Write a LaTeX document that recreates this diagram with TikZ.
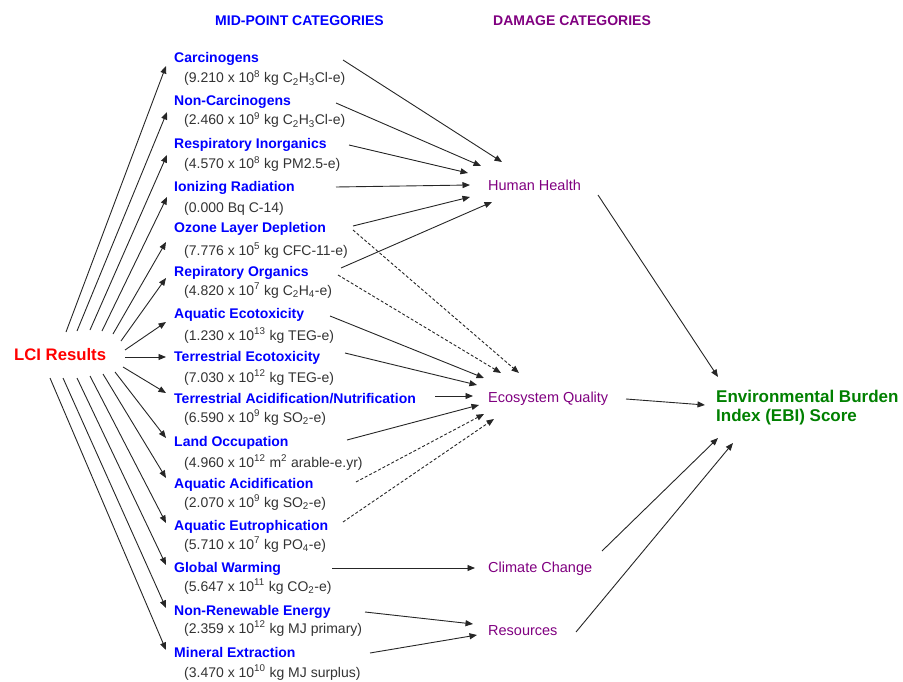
\documentclass[tikz,border=0pt]{standalone}
\usepackage{fontspec}
\setmainfont{Liberation Sans}
\usetikzlibrary{arrows.meta}
\definecolor{midblue}{RGB}{0,0,255}
\definecolor{dmgpurple}{RGB}{128,0,128}
\definecolor{ebigreen}{RGB}{0,128,0}
\definecolor{lcired}{RGB}{255,0,0}
\definecolor{valgray}{RGB}{51,51,51}
\begin{document}
\begin{tikzpicture}[x=1pt,y=-1pt,
  midname/.style={anchor=base west,inner sep=0pt,text=midblue,font=\bfseries\fontsize{14}{16}\selectfont},
  midval/.style={anchor=base west,inner sep=0pt,text=valgray,font=\fontsize{14}{16}\selectfont},
  dmg/.style={anchor=base west,inner sep=0pt,text=dmgpurple,font=\fontsize{14.5}{17}\selectfont},
  hdr/.style={anchor=base west,inner sep=0pt,font=\bfseries\fontsize{14}{16}\selectfont},
  conn/.style={draw=black!85,line width=0.9pt,-{Triangle[length=7.5pt,width=6pt]}},
  dconn/.style={conn,dash pattern=on 3pt off 2pt}
]
\useasboundingbox (0,0) rectangle (903,682);

% headers
\node[hdr,text=midblue] (hmid) at (215,26) {MID-POINT CATEGORIES};
\node[hdr,text=dmgpurple] (hdmg) at (493,26) {DAMAGE CATEGORIES};

% LCI
\node[anchor=base west,inner sep=0pt,text=lcired,font=\bfseries\fontsize{16.7}{19}\selectfont] (lci) at (14,360) {LCI Results};

% mid-point names
\node[midname] (n1) at (174,63) {Carcinogens};
\node[midname] (n2) at (174,106) {Non-Carcinogens};
\node[midname] (n3) at (174,149) {Respiratory Inorganics};
\node[midname] (n4) at (174,192) {Ionizing Radiation};
\node[midname] (n5) at (174,233) {Ozone Layer Depletion};
\node[midname] (n6) at (174,276) {Repiratory Organics};
\node[midname] (n7) at (174,318) {Aquatic Ecotoxicity};
\node[midname] (n8) at (174,361) {Terrestrial Ecotoxicity};
\node[midname] (n9) at (174,403) {Terrestrial Acidification/Nutrification};
\node[midname] (n10) at (174,446) {Land Occupation};
\node[midname] (n11) at (174,488) {Aquatic Acidification};
\node[midname] (n12) at (174,530) {Aquatic Eutrophication};
\node[midname] (n13) at (174,572) {Global Warming};
\node[midname] (n14) at (174,615) {Non-Renewable Energy};
\node[midname] (n15) at (174,657) {Mineral Extraction};

% values
\node[midval] (v1) at (184,83) {(9.210 x 10\textsuperscript{8} kg C\textsubscript{2}H\textsubscript{3}Cl-e)};
\node[midval] (v2) at (184,125) {(2.460 x 10\textsuperscript{9} kg C\textsubscript{2}H\textsubscript{3}Cl-e)};
\node[midval] (v3) at (184,169) {(4.570 x 10\textsuperscript{8} kg PM2.5-e)};
\node[midval] (v4) at (184,212) {(0.000 Bq C-14)};
\node[midval] (v5) at (184,255) {(7.776 x 10\textsuperscript{5} kg CFC-11-e)};
\node[midval] (v6) at (184,295) {(4.820 x 10\textsuperscript{7} kg C\textsubscript{2}H\textsubscript{4}-e)};
\node[midval] (v7) at (184,340) {(1.230 x 10\textsuperscript{13} kg TEG-e)};
\node[midval] (v8) at (184,382) {(7.030 x 10\textsuperscript{12} kg TEG-e)};
\node[midval] (v9) at (184,422) {(6.590 x 10\textsuperscript{9} kg SO\textsubscript{2}-e)};
\node[midval] (v10) at (184,467) {(4.960 x 10\textsuperscript{12} m\textsuperscript{2} arable-e.yr)};
\node[midval] (v11) at (184,507) {(2.070 x 10\textsuperscript{9} kg SO\textsubscript{2}-e)};
\node[midval] (v12) at (184,549) {(5.710 x 10\textsuperscript{7} kg PO\textsubscript{4}-e)};
\node[midval] (v13) at (184,591) {(5.647 x 10\textsuperscript{11} kg CO\textsubscript{2}-e)};
\node[midval] (v14) at (184,633) {(2.359 x 10\textsuperscript{12} kg MJ primary)};
\node[midval] (v15) at (184,677) {(3.470 x 10\textsuperscript{10} kg MJ surplus)};

% damage categories
\node[dmg] (hh) at (488,191) {Human Health};
\node[dmg] (eq) at (488,402) {Ecosystem Quality};
\node[dmg] (cc) at (488,572) {Climate Change};
\node[dmg] (res) at (488,635) {Resources};

% EBI
\node[anchor=base west,inner sep=0pt,text=ebigreen,align=left,font=\bfseries\fontsize{17}{18.5}\selectfont] (ebi) at (716,421) {Environmental Burden\\Index (EBI) Score};

% LCI -> mid-point connector end points
\path (66,332) coordinate (s1) (166,66) coordinate (t1)
      (77,331) coordinate (s2) (167,112) coordinate (t2)
      (90,330) coordinate (s3) (167,155) coordinate (t3)
      (102,331) coordinate (s4) (167,197) coordinate (t4)
      (113,334) coordinate (s5) (166,242) coordinate (t5)
      (121,341) coordinate (s6) (166,278) coordinate (t6)
      (125,350) coordinate (s7) (166,322) coordinate (t7)
      (125,357) coordinate (s8) (166,357) coordinate (t8)
      (123,367) coordinate (s9) (166,393) coordinate (t9)
      (115,372) coordinate (s10) (166,438) coordinate (t10)
      (103,374) coordinate (s11) (166,478) coordinate (t11)
      (90,376) coordinate (s12) (166,523) coordinate (t12)
      (77,378) coordinate (s13) (166,565) coordinate (t13)
      (63,378) coordinate (s14) (166,608) coordinate (t14)
      (50,378) coordinate (s15) (166,650) coordinate (t15);
\foreach \i in {1,...,15} {\draw[conn] (s\i) -- (t\i);}

% mid-point -> damage connector end points
\path (343,60) coordinate (a1) (502,162) coordinate (b1)
      (336,103) coordinate (a2) (481,166) coordinate (b2)
      (349,145) coordinate (a3) (468,173) coordinate (b3)
      (336,187) coordinate (a4) (470,185) coordinate (b4)
      (353,226) coordinate (a5) (470,197) coordinate (b5)
      (341,268) coordinate (a6) (492,202) coordinate (b6)
      (353,230) coordinate (d5) (519,373) coordinate (e5)
      (338,275) coordinate (d6) (501,373) coordinate (e6)
      (330,316) coordinate (a7) (484,378) coordinate (b7)
      (345,353) coordinate (a8) (477,385) coordinate (b8)
      (435,396) coordinate (a9) (473,396) coordinate (b9)
      (347,440) coordinate (a10) (479,405) coordinate (b10)
      (356,482) coordinate (d11) (484,414) coordinate (e11)
      (343,522) coordinate (d12) (494,419) coordinate (e12)
      (332,568) coordinate (a13) (475,568) coordinate (b13)
      (365,612) coordinate (a14) (473,624) coordinate (b14)
      (370,653) coordinate (a15) (477,635) coordinate (b15);
\foreach \i in {1,2,3,4,5,6,7,8,9,10,13,14,15} {\draw[conn] (a\i) -- (b\i);}
\foreach \i in {5,6,11,12} {\draw[dconn] (d\i) -- (e\i);}

% damage -> EBI
\path (598,195) coordinate (hhs) (718,377) coordinate (hhe)
      (626,399) coordinate (eqs) (705,405) coordinate (eqe)
      (602,551) coordinate (ccs) (718,438) coordinate (cce)
      (576,632) coordinate (ress) (733,443) coordinate (rese);
\draw[conn] (hhs) -- (hhe);
\draw[conn] (eqs) -- (eqe);
\draw[conn] (ccs) -- (cce);
\draw[conn] (ress) -- (rese);
\end{tikzpicture}
\end{document}
